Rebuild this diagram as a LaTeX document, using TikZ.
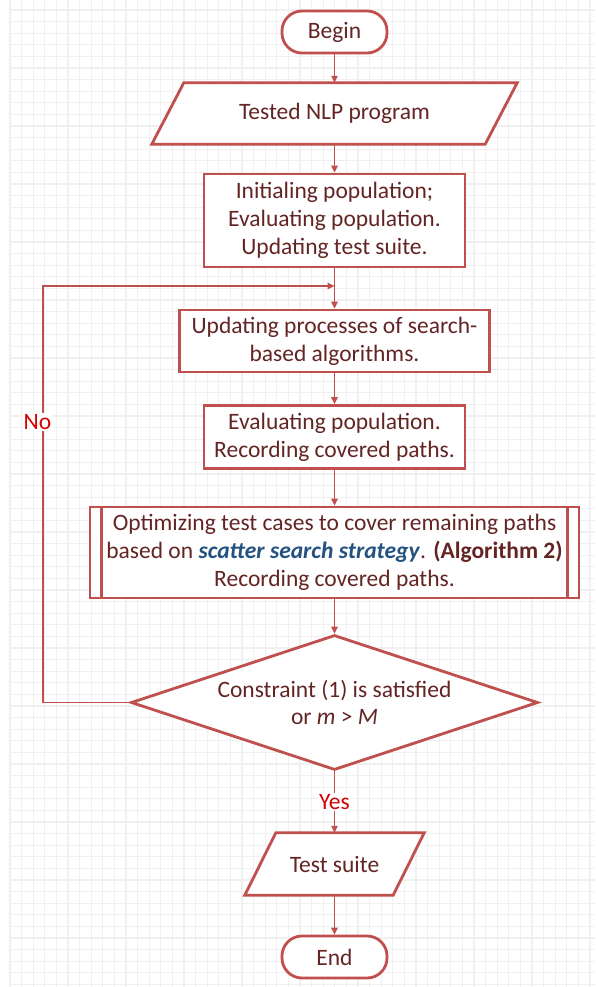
\documentclass[tikz,border=0pt]{standalone}
\usepackage{fontspec}
\setmainfont{Carlito}
\usetikzlibrary{calc,arrows.meta,shapes.geometric}
\definecolor{bord}{RGB}{192,80,77}
\definecolor{txt}{RGB}{99,37,35}
\definecolor{blu}{RGB}{36,82,128}
\definecolor{lbl}{RGB}{214,0,0}
\definecolor{gridc}{RGB}{240,240,240}
\pgfdeclarelayer{gridlayer}
\pgfdeclarelayer{bglayer}
\pgfsetlayers{gridlayer,bglayer,main}
\begin{document}
\begin{tikzpicture}[x=1pt,y=-1pt,
  every node/.style={font=\fontsize{23.5}{27.8}\selectfont, text=txt},
  proc/.style={draw=bord, line width=2.8pt, fill=white, align=center, inner sep=0pt},
  term/.style={proc, rounded corners=20pt},
  hidden/.style={inner sep=0pt, align=center},
  iobox/.style={draw=bord, line width=2.8pt, fill=white, line join=miter},
  decision/.style={proc, diamond, aspect=3},
  conn/.style={draw=bord, line width=1.4pt, -{Triangle[length=7pt,width=6.5pt]}},
  lab/.style={fill=white, text=lbl, inner sep=1.5pt}
]
\useasboundingbox (0,0) rectangle (595,987);
\begin{pgfonlayer}{gridlayer}
  \fill[white] (0,0) rectangle (595,987);
  \foreach \i in {0,...,50} \draw[gridc, line width=1.2pt] ({10+11.6*\i},0) -- ({10+11.6*\i},987);
  \foreach \j in {0,...,84} \draw[gridc, line width=1.2pt] (10,{10+11.6*\j}) -- (595,{10+11.6*\j});
\end{pgfonlayer}

\node[term, minimum width=105, minimum height=42] (begin) at (334.5,32) {Begin};
\node[hidden, minimum width=333, minimum height=61] (io1) at (334.5,113.5) {Tested NLP program};
\node[proc, minimum width=261, minimum height=93] (b1) at (334.5,220.5) {Initialing population;\\Evaluating population.\\Updating test suite.};
\node[proc, minimum width=310, minimum height=62] (b2) at (334.5,341) {Updating processes of search-\\based algorithms.};
\node[proc, minimum width=261, minimum height=63] (b3) at (334.5,437) {Evaluating population.\\Recording covered paths.};
\node[proc, minimum width=489, minimum height=91] (b4) at (334.5,552.5) {Optimizing test cases to cover remaining paths\\based on \textcolor{blu}{\textbf{\textit{scatter search strategy}}}. \textbf{(Algorithm 2)}\\Recording covered paths.};
\node[decision, minimum width=407, minimum height=135] (dec) at (334.5,702.5) {Constraint (1) is satisfied\\or \textit{m} > \textit{M}};
\node[hidden, minimum width=148, minimum height=62] (io2) at (334.5,864) {Test suite};
\node[term, minimum width=105, minimum height=42] (end) at (334.5,957) {End};

\begin{pgfonlayer}{bglayer}
  \draw[iobox] ($(io1.north west)+(16,0)$) -- ($(io1.north east)+(16,0)$) -- ($(io1.south east)+(-16,0)$) -- ($(io1.south west)+(-16,0)$) -- cycle;
  \draw[iobox] ($(io2.north west)+(15.5,0)$) -- ($(io2.north east)+(15.5,0)$) -- ($(io2.south east)+(-15.5,0)$) -- ($(io2.south west)+(-15.5,0)$) -- cycle;
\end{pgfonlayer}

\draw[bord, line width=2.8pt] ($(b4.north west)+(13,0)$) -- ($(b4.south west)+(13,0)$);
\draw[bord, line width=2.8pt] ($(b4.north east)+(-13,0)$) -- ($(b4.south east)+(-13,0)$);

\coordinate (loopL) at (43,286);
\coordinate (join) at (334.5,286);

\draw[conn] (begin.south) -- (io1.north);
\draw[conn] (io1.south) -- (b1.north);
\draw[conn] (b1.south) -- (b2.north);
\draw[conn] (b2.south) -- (b3.north);
\draw[conn] (b3.south) -- (b4.north);
\draw[conn] (b4.south) -- (dec.north);
\draw[conn] (dec.south) -- (io2.north);
\draw[conn] (io2.south) -- (end.north);
\draw[conn] (dec.west) -| (loopL) -- (join);

\node[lab] (no) at (37.5,422) {No};
\node[lab] (yes) at (334.5,802) {Yes};
\end{tikzpicture}
\end{document}
